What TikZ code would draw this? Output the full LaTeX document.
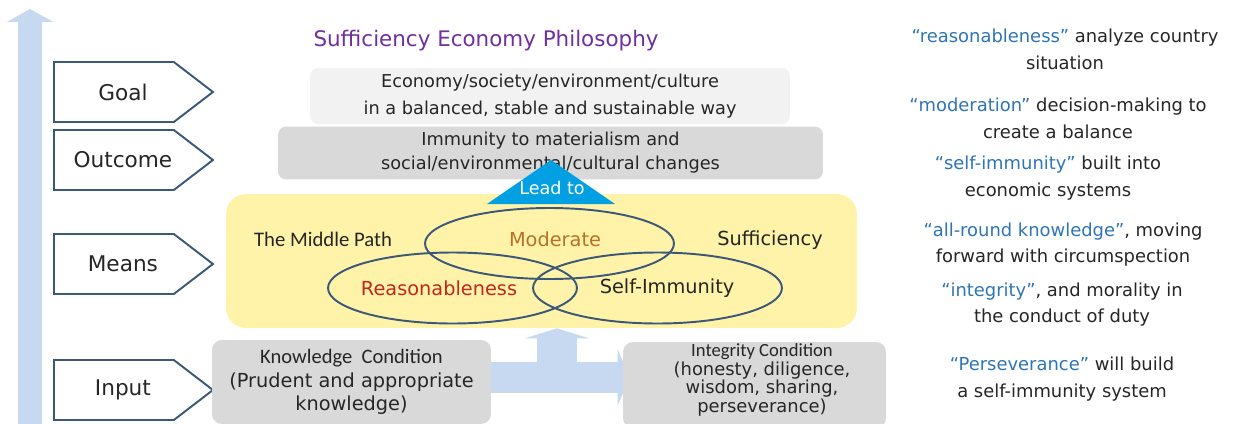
\documentclass[tikz,border=0pt]{standalone}
\usepackage{fontspec}
\setmainfont{DejaVu Sans}
\newfontfamily\condfont{Carlito}
\usetikzlibrary{shapes.geometric, shapes.symbols, arrows.meta, positioning, calc}

\definecolor{sepPurple}{RGB}{112,48,160}
\definecolor{sepBlue}{RGB}{46,117,182}
\definecolor{sepLine}{RGB}{59,88,120}
\definecolor{sepYellow}{RGB}{255,243,170}
\definecolor{sepCyan}{RGB}{0,160,226}
\definecolor{sepBand}{RGB}{198,217,240}
\definecolor{sepGrayA}{RGB}{242,242,242}
\definecolor{sepGrayB}{RGB}{217,217,217}
\definecolor{sepText}{RGB}{38,38,38}
\definecolor{sepRed}{RGB}{192,40,30}
\definecolor{sepBrown}{RGB}{184,112,40}

\newcommand{\sepkey}[1]{\textcolor{sepBlue}{#1}}

\pgfdeclarelayer{back}
\pgfsetlayers{back,main}

\begin{document}
\begin{tikzpicture}[
    x=0.02cm, y=-0.02cm,
    stage/.style={signal, signal to=east, signal pointer angle=75, draw=sepLine, line width=1.1pt, fill=white, minimum width=3.18cm, minimum height=1.2cm, font=\fontsize{12.3}{14}\selectfont, text=sepText, anchor=west,
        execute at begin node={\hspace*{0.36cm}\hbox to 1.6cm\bgroup\hss}, execute at end node={\hss\egroup}},
    panel/.style={rectangle, rounded corners=0.16cm, align=center, text=sepText, font=\fontsize{10.1}{15.3}\selectfont},
    ring/.style={ellipse, draw=sepLine, line width=1.1pt, minimum width=4.98cm, minimum height=1.42cm},
    venn/.style={font=\fontsize{11}{13}\selectfont, text=sepText},
    note/.style={align=center, text=sepText, font=\fontsize{10.2}{15.3}\selectfont},
    rise/.style={draw=sepBand, line width=0.48cm, -{Triangle[width=0.92cm, length=0.26cm]}},
    hband/.style={draw=sepBand, line width=0.62cm, -{Triangle[width=1.12cm, length=0.24cm]}, shorten >=-0.14cm},
    vband/.style={draw=sepBand, line width=0.8cm, -{Triangle[width=1.28cm, length=0.2cm]}},
]

\begin{pgfonlayer}{back}
\fill[white] (0,0) rectangle (1240,423);
\end{pgfonlayer}
\useasboundingbox (0,0) rectangle (1240,423);

% rising arrow on the left
\coordinate (riseBot) at (30,440);
\coordinate (riseTop) at (30,9);
\draw[rise] (riseBot) -- (riseTop);

% stages
\node[stage] (stGoal) at (53,92) {Goal};
\node[stage] (stOutcome) at (53,160) {Outcome};
\node[stage] (stMeans) at (53,264) {Means};
\node[stage] (stInput) at (53,390) {Input};

\node[font=\fontsize{12.2}{14}\selectfont, text=sepPurple] (title) at (486,41) {Sufficiency Economy Philosophy};

% goal and outcome
\node[panel, fill=sepGrayA, minimum width=9.6cm, minimum height=1cm] (goalBox) at (550,96) {Economy/society/environment/culture\\in a balanced, stable and sustainable way};
\node[panel, fill=sepGrayB, minimum width=10.9cm, minimum height=1cm, font=\fontsize{10.1}{13.6}\selectfont] (outBox) at (550.5,153) {Immunity to materialism and\\social/environmental/cultural changes};

% means
\node[panel, fill=sepYellow, rounded corners=0.4cm, minimum width=12.62cm, minimum height=2.68cm] (meansBox) at (541.5,261) {};

\fill[sepCyan] (487,204) -- (551,160) -- (615,204) -- cycle;
\node[text=white, font=\fontsize{10}{12}\selectfont] (lead) at (552,188) {Lead to};

\node[ring] (mod) at (549.5,243.5) {};
\node[ring] (rea) at (452.5,288) {};
\node[ring] (imm) at (657.5,288) {};
\node[venn, text=sepBrown] (modTxt) at (555,239) {Moderate};
\node[venn, text=sepRed] (reaTxt) at (439,288) {Reasonableness};
\node[venn] (immTxt) at (667,288) {Self-Immunity};
\node[font=\condfont\fontsize{11.8}{13}\selectfont, text=sepText] (midPath) at (323,239) {The Middle Path};
\node[venn] (suff) at (770,240) {Sufficiency};

% input conditions
\node[panel, fill=sepGrayB, rounded corners=0.2cm, minimum width=5.58cm, minimum height=1.68cm, font=\fontsize{11}{13.3}\selectfont] (knowBox) at (351.5,382) {{\condfont\fontsize{11.7}{13.3}\selectfont Knowledge\ \ Condition}\\(Prudent and appropriate\\knowledge)};
\node[panel, fill=sepGrayB, rounded corners=0.2cm, minimum width=5.26cm, minimum height=1.72cm] (integBox) at (754.5,385) {};
\node[align=center, text=sepText, font=\fontsize{10.2}{10.6}\selectfont] (integTxt) at (762,380) {{\condfont\fontsize{10.6}{10.6}\selectfont Integrity Condition}\\(honesty, diligence,\\wisdom, sharing,\\perseverance)};

\begin{pgfonlayer}{back}
\coordinate (bandL) at ([yshift=0.09cm]knowBox.east);
\draw[hband] (bandL) -- (bandL -| integBox.west);
\coordinate (fork) at ($(knowBox.east)!0.5!(integBox.west)$);
\draw[vband] (fork) -- (fork |- meansBox.south);
\end{pgfonlayer}

% notes on the right
\node[note] (n1) at (1065,49.5) {\sepkey{“reasonableness”} analyze country\\situation};
\node[note] (n2) at (1058,118) {\sepkey{“moderation”} decision-making to\\create a balance};
\node[note] (n3) at (1048,178) {\sepkey{“self-immunity”} built into\\economic systems};
\node[note] (n4) at (1063,244.5) {\sepkey{“all-round knowledge”}, moving\\forward with circumspection};
\node[note] (n5) at (1062,304.5) {\sepkey{“integrity”}, and morality in\\the conduct of duty};
\node[note] (n6) at (1062,379) {\sepkey{“Perseverance”} will build\\a self-immunity system};

\end{tikzpicture}
\end{document}
